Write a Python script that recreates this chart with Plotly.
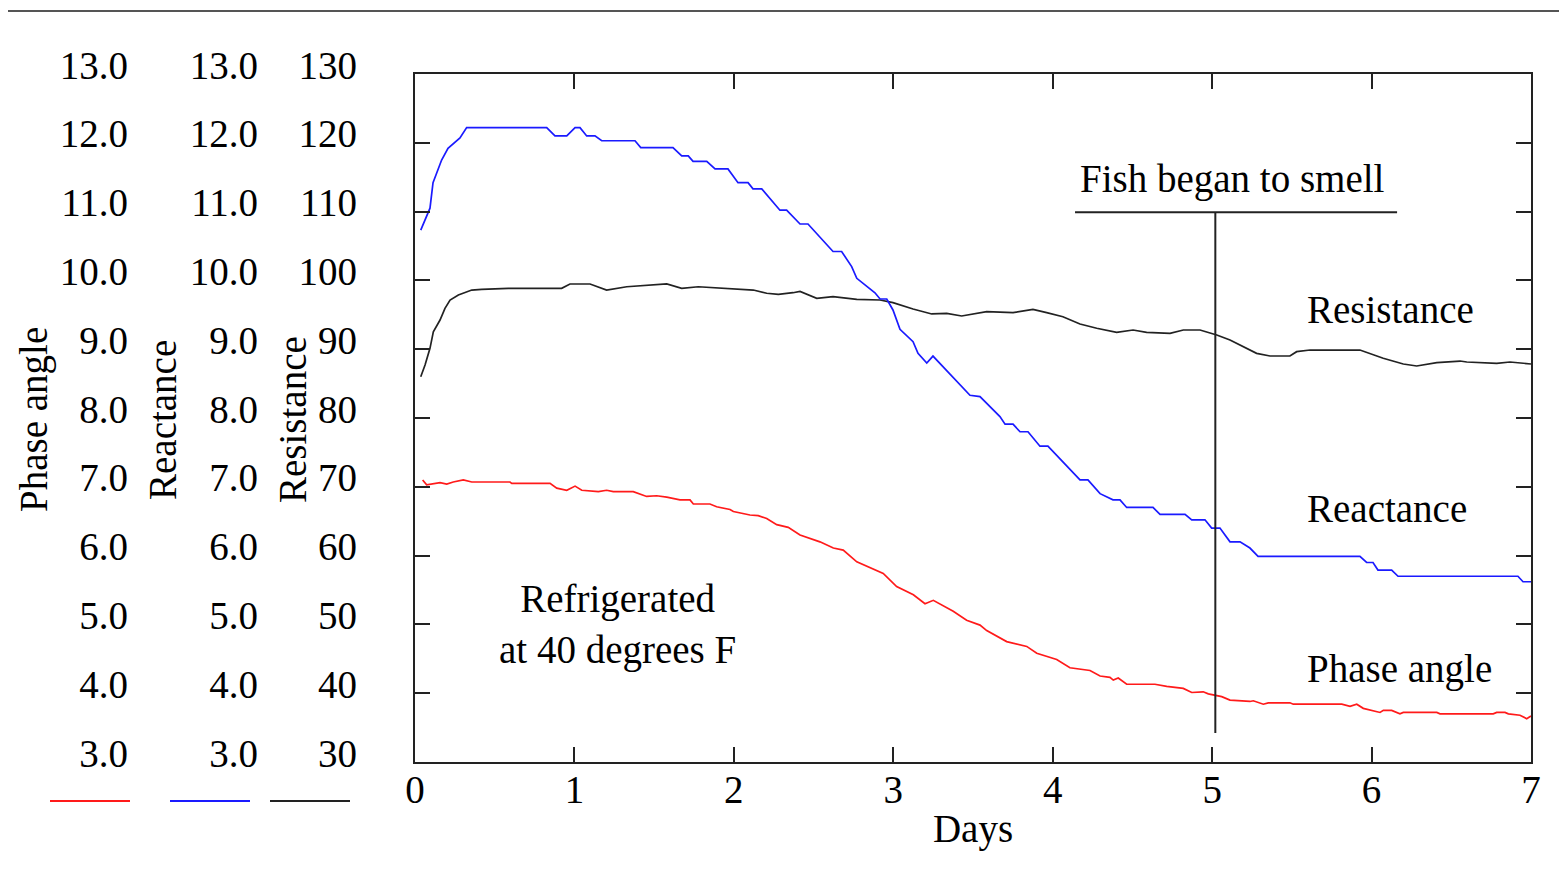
import plotly.graph_objects as go

# ---------------- data ----------------
react_days = [0.036, 0.073, 0.094, 0.113, 0.136, 0.167, 0.207, 0.282, 0.324, 0.826, 0.878, 0.952,
              1.004, 1.035, 1.077, 1.129, 1.171, 1.380, 1.416, 1.618, 1.673, 1.714, 1.744, 1.830,
              1.882, 1.963, 2.026, 2.089, 2.120, 2.175, 2.289, 2.331, 2.415, 2.465, 2.622, 2.676,
              2.739, 2.771, 2.885, 2.917, 2.959, 2.998, 3.042, 3.124, 3.155, 3.210, 3.249, 3.481,
              3.544, 3.669, 3.701, 3.751, 3.795, 3.845, 3.920, 3.970, 4.171, 4.221, 4.297, 4.378,
              4.422, 4.464, 4.629, 4.673, 4.830, 4.872, 4.955, 4.997, 5.049, 5.112, 5.175, 5.237,
              5.288, 5.927, 5.969, 6.009, 6.040, 6.126, 6.166, 6.918, 6.950, 7.0]
reactance = [10.73, 10.93, 11.05, 11.42, 11.56, 11.75, 11.92, 12.07, 12.22, 12.22, 12.10, 12.10,
             12.22, 12.22, 12.10, 12.10, 12.03, 12.03, 11.93, 11.93, 11.81, 11.81, 11.73, 11.73,
             11.62, 11.62, 11.42, 11.42, 11.33, 11.33, 11.02, 11.02, 10.82, 10.82, 10.42, 10.42,
             10.20, 10.03, 9.82, 9.73, 9.73, 9.57, 9.29, 9.11, 8.94, 8.80, 8.90, 8.33,
             8.31, 8.02, 7.91, 7.91, 7.80, 7.80, 7.59, 7.59, 7.10, 7.10, 6.90, 6.81,
             6.81, 6.70, 6.70, 6.60, 6.60, 6.52, 6.52, 6.40, 6.40, 6.20, 6.20, 6.11,
             5.99, 5.99, 5.90, 5.90, 5.79, 5.79, 5.70, 5.70, 5.62, 5.62]

resist_days = [0.036, 0.063, 0.094, 0.115, 0.157, 0.188, 0.220, 0.272, 0.356, 0.418, 0.585, 0.920,
               0.972, 1.098, 1.202, 1.328, 1.579, 1.673, 1.777, 2.018, 2.122, 2.206, 2.279, 2.371,
               2.415, 2.520, 2.622, 2.771, 2.917, 2.998, 3.124, 3.241, 3.335, 3.429, 3.586, 3.751,
               3.876, 3.962, 4.064, 4.171, 4.276, 4.401, 4.504, 4.589, 4.736, 4.819, 4.924, 5.029,
               5.112, 5.279, 5.363, 5.488, 5.530, 5.614, 5.927, 6.073, 6.199, 6.283, 6.409, 6.555,
               6.597, 6.785, 6.868, 7.0]
resistance = [86.0, 87.7, 90.13, 92.54, 94.24, 95.94, 97.15, 97.88, 98.6, 98.71, 98.85, 98.85,
              99.48, 99.48, 98.60, 99.08, 99.48, 98.85, 99.08, 98.79, 98.6, 98.13, 97.98, 98.21,
              98.39, 97.4, 97.63, 97.25, 97.15, 96.76, 95.84, 95.12, 95.22, 94.83, 95.45, 95.31,
              95.8, 95.31, 94.72, 93.66, 93.04, 92.46, 92.79, 92.46, 92.31, 92.79, 92.79, 92.06,
              91.34, 89.4, 89.01, 89.01, 89.64, 89.88, 89.88, 88.68, 87.85, 87.56, 88.04, 88.28,
              88.14, 87.95, 88.14, 87.85]

phase_days = [0.048, 0.073, 0.157, 0.199, 0.240, 0.303, 0.356, 0.596, 0.607, 0.847, 0.889, 0.952,
              1.004, 1.046, 1.150, 1.202, 1.244, 1.369, 1.453, 1.516, 1.579, 1.662, 1.725, 1.746,
              1.850, 1.892, 1.976, 1.997, 2.101, 2.153, 2.206, 2.269, 2.341, 2.415, 2.540, 2.624,
              2.686, 2.771, 2.937, 3.021, 3.126, 3.199, 3.251, 3.376, 3.460, 3.544, 3.586, 3.711,
              3.837, 3.900, 4.025, 4.108, 4.234, 4.297, 4.359, 4.380, 4.411, 4.464, 4.641, 4.715,
              4.819, 4.872, 4.944, 4.976, 5.060, 5.112, 5.237, 5.258, 5.321, 5.352, 5.488, 5.509,
              5.813, 5.865, 5.907, 5.948, 6.053, 6.074, 6.126, 6.178, 6.199, 6.409, 6.429, 6.763,
              6.785, 6.837, 6.858, 6.931, 6.973, 7.0]
phase_angle = [7.10, 7.03, 7.06, 7.04, 7.07, 7.10, 7.07, 7.07, 7.05, 7.05, 6.98, 6.95,
               7.01, 6.95, 6.93, 6.95, 6.93, 6.93, 6.86, 6.87, 6.85, 6.81, 6.81, 6.75,
               6.75, 6.71, 6.67, 6.64, 6.59, 6.58, 6.54, 6.45, 6.41, 6.30, 6.20, 6.11,
               6.08, 5.91, 5.74, 5.55, 5.43, 5.30, 5.35, 5.19, 5.06, 4.99, 4.91, 4.75,
               4.68, 4.58, 4.49, 4.37, 4.33, 4.25, 4.23, 4.19, 4.22, 4.13, 4.13, 4.10,
               4.07, 4.01, 4.02, 3.99, 3.95, 3.90, 3.88, 3.89, 3.84, 3.86, 3.86, 3.84,
               3.84, 3.81, 3.84, 3.78, 3.72, 3.75, 3.75, 3.70, 3.72, 3.72, 3.70, 3.70,
               3.72, 3.72, 3.70, 3.68, 3.63, 3.67]

day_ticks = [0, 1, 2, 3, 4, 5, 6, 7]
small_ticks = [3, 4, 5, 6, 7, 8, 9, 10, 11, 12, 13]
res_ticks = [30, 40, 50, 60, 70, 80, 90, 100, 110, 120, 130]

smell_day = 5.02
smell_bar = [4.14, 6.16]
smell_top = 109.9
smell_bottom = 34.2

# ---------------- styling ----------------
OFF = 8                      # page body margin
FW, FH = 1567 - OFF, 886 - OFF
FONT = "Liberation Serif, Times New Roman, serif"
FS = 39
RED, BLUE, BLACK = "#ff1a1a", "#1a1aff", "#222222"

def px_x(p):
    return (p - OFF) / FW

def px_y(p):
    return (FH - (p - OFF)) / FH

fig = go.Figure()
fig.add_trace(go.Scatter(x=resist_days, y=resistance, mode="lines",
                         line=dict(color=BLACK, width=1.7), yaxis="y", name="Resistance"))
fig.add_trace(go.Scatter(x=react_days, y=reactance, mode="lines",
                         line=dict(color=BLUE, width=1.7), yaxis="y3", name="Reactance"))
fig.add_trace(go.Scatter(x=phase_days, y=phase_angle, mode="lines",
                         line=dict(color=RED, width=1.7), yaxis="y2", name="Phase angle"))
fig.add_trace(go.Scatter(x=[None], y=[None], yaxis="y4", showlegend=False, hoverinfo="skip"))

x_dom = [px_x(415), px_x(1531)]
y_dom = [px_y(762), px_y(74)]

label_axis = dict(overlaying="y", anchor="free", side="left", showline=False, ticks="",
                  showgrid=False, zeroline=False, automargin=False,
                  tickfont=dict(family=FONT, size=FS, color="black"),
                  ticklabelshift=-9)

fig.update_layout(
    template="none",
    width=FW, height=FH, margin=dict(l=0, r=0, t=0, b=0, pad=0), autosize=False,
    plot_bgcolor="white", paper_bgcolor="white", showlegend=False,
    font=dict(family=FONT, size=FS, color="black"),
    xaxis=dict(domain=x_dom, range=[0, 7], tickvals=day_ticks, ticks="inside", ticklen=15,
               tickwidth=2, tickcolor=BLACK, showline=True, linewidth=2, linecolor=BLACK,
               mirror="ticks", showgrid=False, zeroline=False, automargin=False,
               ticklabelstandoff=-8,
               tickfont=dict(family=FONT, size=FS, color="black"),
               title=dict(text="Days", font=dict(family=FONT, size=FS, color="black"), standoff=5)),
    yaxis=dict(domain=y_dom, range=[30, 130], tickvals=res_ticks[1:-1], ticks="inside", ticklen=15,
               tickwidth=2, tickcolor=BLACK, showline=True, linewidth=2, linecolor=BLACK,
               mirror="ticks", showgrid=False, zeroline=False, showticklabels=False,
               automargin=False),
    yaxis2=dict(label_axis, range=[3, 13], tickvals=small_ticks, tickformat=".1f",
                position=px_x(128)),
    yaxis3=dict(label_axis, range=[3, 13], tickvals=small_ticks, tickformat=".1f",
                position=px_x(258)),
    yaxis4=dict(label_axis, range=[30, 130], tickvals=res_ticks, tickformat="d",
                position=px_x(357)),
)

# axis titles (rotated)
for text, xc in [("Phase angle", 34), ("Reactance", 162), ("Resistance", 292)]:
    fig.add_annotation(text=text, x=px_x(xc), y=px_y(420), xref="paper", yref="paper",
                       textangle=-90, showarrow=False, xanchor="center", yanchor="middle",
                       font=dict(family=FONT, size=FS, color="black"))

# legend keys under label columns
for color, (x0, x1) in [(RED, (50, 130)), (BLUE, (170, 250)), (BLACK, (270, 350))]:
    fig.add_shape(type="line", xref="paper", yref="paper", x0=px_x(x0), x1=px_x(x1),
                  y0=px_y(801), y1=px_y(801), line=dict(color=color, width=2))

# top rule
fig.add_shape(type="line", xref="paper", yref="paper", x0=0, x1=1, y0=px_y(11), y1=px_y(11),
              line=dict(color="#555555", width=2))

# "fish began to smell" marker
fig.add_shape(type="line", xref="x", yref="y", x0=smell_bar[0], x1=smell_bar[1],
              y0=smell_top, y1=smell_top, line=dict(color=BLACK, width=2))
fig.add_shape(type="line", xref="x", yref="y", x0=smell_day, x1=smell_day,
              y0=smell_top, y1=smell_bottom, line=dict(color=BLACK, width=2))

ann_font = dict(family=FONT, size=FS, color="black")
fig.add_annotation(text="Fish began to smell", x=5.125, y=114.7, xref="x", yref="y",
                   showarrow=False, xanchor="center", yanchor="middle", font=ann_font)
fig.add_annotation(text="Resistance", x=5.58, y=95.8, xref="x", yref="y",
                   showarrow=False, xanchor="left", yanchor="middle", font=ann_font)
fig.add_annotation(text="Reactance", x=5.58, y=66.8, xref="x", yref="y",
                   showarrow=False, xanchor="left", yanchor="middle", font=ann_font)
fig.add_annotation(text="Phase angle", x=5.58, y=43.5, xref="x", yref="y",
                   showarrow=False, xanchor="left", yanchor="middle", font=ann_font)
fig.add_annotation(text="Refrigerated<br>at 40 degrees F", x=1.267, y=50.0, xref="x", yref="y",
                   showarrow=False, xanchor="center", yanchor="middle", align="center",
                   font=ann_font)

fig.write_html("out.html")
